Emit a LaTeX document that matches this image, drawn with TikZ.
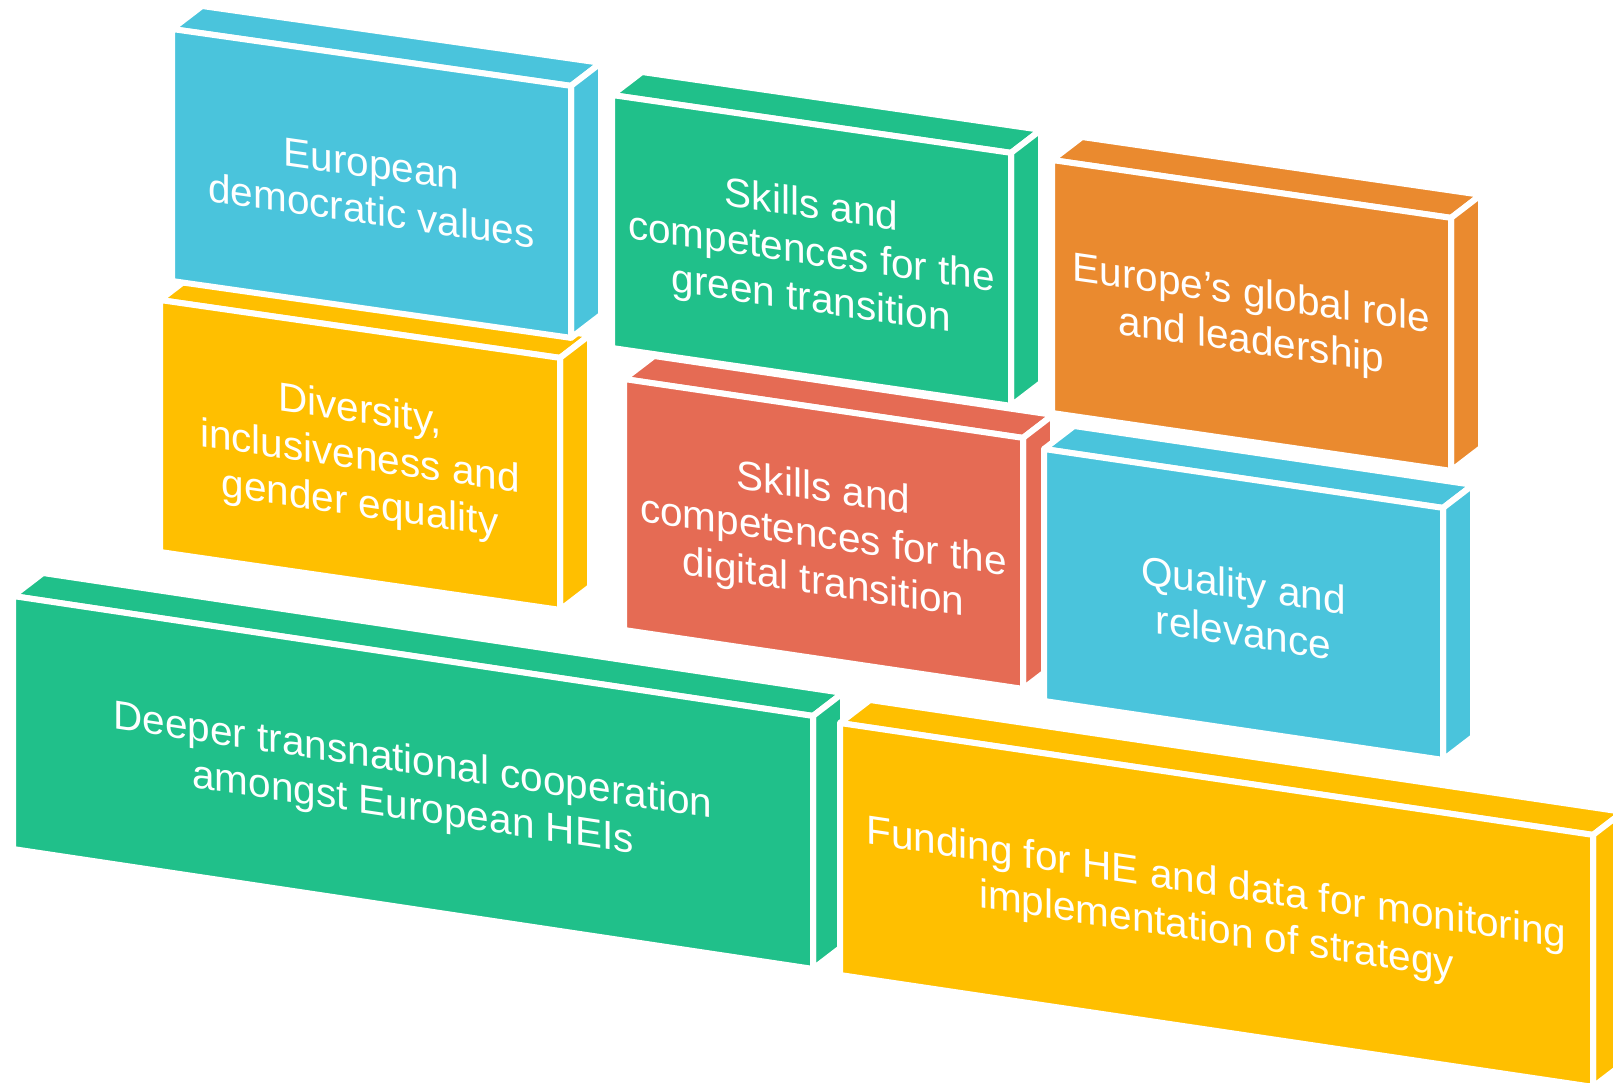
\documentclass[tikz,border=0pt]{standalone}
\usepackage{fontspec}
\setmainfont{Liberation Sans}
\usetikzlibrary{calc}
\definecolor{slabblue}{HTML}{4AC4DC}
\definecolor{slabgreen}{HTML}{20C08A}
\definecolor{slaborange}{HTML}{EA8A2F}
\definecolor{slabyellow}{HTML}{FFBF00}
\definecolor{slabred}{HTML}{E56B54}
\newcommand\slabbox[8]{%
  \pgfmathsetmacro\slabrx{#3+#5}%
  \pgfmathsetmacro\slabry{#4+#6*#5}%
  \coordinate (#1-tl) at (#3,#4);
  \coordinate (#1-tr) at (\slabrx,\slabry);
  \coordinate (#1-br) at (\slabrx,\slabry+#7);
  \coordinate (#1-bl) at (#3,#4+#7);
  \filldraw[face,fill=#2] (#1-tl) -- (#1-tr) -- ++(30,-23) -- ($(#1-tl)+(30,-23)$) -- cycle;
  \filldraw[face,fill=#2] (#1-tr) -- ++(30,-23) -- ($(#1-br)+(30,-23)$) -- (#1-br) -- cycle;
  \filldraw[face,fill=#2] (#1-tl) -- (#1-tr) -- (#1-br) -- (#1-bl) -- cycle;
  \node[slabtext,yslant=-#6] (#1) at ($(#1-tl)!0.5!(#1-br)+(0,4)$) {#8};
}

\begin{document}
\begin{tikzpicture}
      [x=1pt, y=-1pt,
      face/.style={draw=white, line width=6pt, line join=round},
      slabtext/.style={text=white, align=center, font=\fontsize{40.5}{47}\selectfont}]

      \useasboundingbox (0,0) rectangle (1613,1082);
      \fill[white] (0,0) rectangle (1613,1082);
      \clip (0,0) rectangle (1613,1082);

      \slabbox{coop}{slabgreen}{13}{596}{800}{0.1499}{253}{Deeper transnational cooperation\\amongst European HEIs}
      \slabbox{funding}{slabyellow}{840}{723}{753}{0.1486}{252}{Funding for HE and data for monitoring\\implementation of strategy}
      \slabbox{diversity}{slabyellow}{160}{300}{400}{0.1447}{252}{Diversity,\\inclusiveness and\\gender equality}
      \slabbox{digital}{slabred}{624}{379}{399}{0.1476}{251}{Skills and\\competences for the\\digital transition}
      \slabbox{quality}{slabblue}{1044}{449}{399}{0.1476}{252}{Quality and\\relevance}
      \slabbox{values}{slabblue}{172}{29}{399}{0.1425}{252}{European\\democratic values}
      \slabbox{green}{slabgreen}{612}{95}{399}{0.145}{253}{Skills and\\competences for the\\green transition}
      \slabbox{global}{slaborange}{1052}{160}{399}{0.145}{253}{Europe’s global role\\and leadership}
    \end{tikzpicture}
\end{document}
